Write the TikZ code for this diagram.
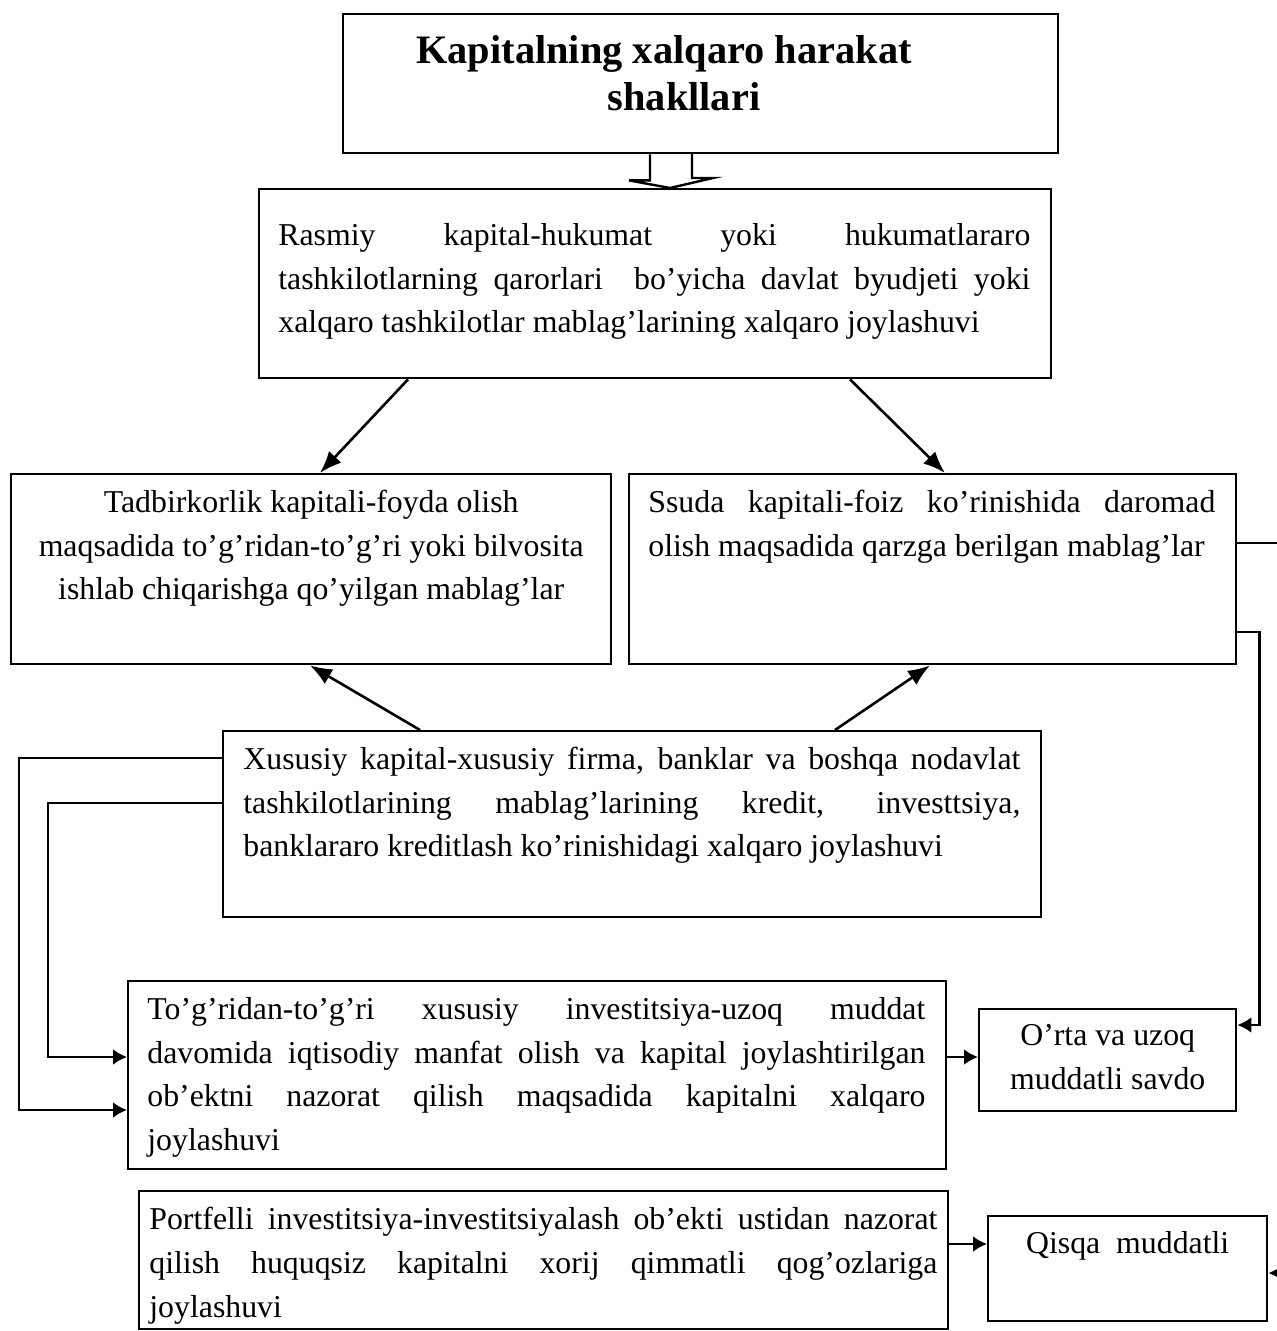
\documentclass[tikz,border=0pt]{standalone}
\usepackage{fontspec}
\setmainfont{Liberation Serif}
\usetikzlibrary{arrows.meta,calc}
\newcommand{\jline}[2]{\hbox to #1{#2}}
\begin{document}
\begin{tikzpicture}[x=0.5pt,y=-0.5pt,
  boxst/.style={draw,line width=1.2pt,inner sep=0pt,anchor=north west},
  txt/.style={inner sep=0pt,anchor=north west,align=left,font=\fontsize{15.9}{21.8}\selectfont},
  ctxt/.style={inner sep=0pt,anchor=north,align=center,font=\fontsize{15.9}{21.8}\selectfont},
  arr/.style={line width=1.3pt,-{Latex[length=7pt,width=8pt]}},
  darr/.style={line width=1.3pt,-{Latex[length=11pt,width=8.5pt]}},
  conn/.style={line width=1.3pt}]
\useasboundingbox (0,0) rectangle (1277,1331);
% boxes
\node[boxst,minimum width=357.5pt,minimum height=69.5pt] (title) at (342,13) {};
\node[boxst,minimum width=396pt,minimum height=94.5pt] (b2) at (258,188) {};
\node[boxst,minimum width=300pt,minimum height=95pt] (tad) at (10,473) {};
\node[boxst,minimum width=303.5pt,minimum height=95pt] (ssu) at (628,473) {};
\node[boxst,minimum width=409pt,minimum height=93pt] (xus) at (222,730) {};
\node[boxst,minimum width=409pt,minimum height=94pt] (tog) at (127,980) {};
\node[boxst,minimum width=128.5pt,minimum height=51pt] (ort) at (978,1008) {};
\node[boxst,minimum width=404.5pt,minimum height=69pt] (por) at (138,1190) {};
\node[boxst,minimum width=139.5pt,minimum height=52.5pt] (qis) at (987,1215) {};
% texts
\node[inner sep=0pt,anchor=north,align=center,font=\fontsize{20.2}{23.5}\selectfont\bfseries] (ttitle) at (684,35) {Kapitalning xalqaro harakat\kern20pt\\shakllari};
\node[txt] (tb2) at ($(b2.north west)+(20,35)$) {\jline{376pt}{Rasmiy kapital-hukumat yoki hukumatlararo}\\\jline{376pt}{tashkilotlarning qarorlari\ \ bo’yicha davlat byudjeti yoki}\\xalqaro tashkilotlar mablag’larining xalqaro joylashuvi};
\node[ctxt] (ttad) at ($(tad.north)+(0,17)$) {Tadbirkorlik kapitali-foyda olish\\maqsadida to’g’ridan-to’g’ri yoki bilvosita\\ishlab chiqarishga qo’yilgan mablag’lar};
\node[txt] (tssu) at ($(ssu.north west)+(20,17)$) {\jline{283.5pt}{Ssuda kapitali-foiz ko’rinishida daromad}\\olish maqsadida qarzga berilgan mablag’lar};
\node[txt] (txus) at ($(xus.north west)+(21,17)$) {\jline{388.5pt}{Xususiy kapital-xususiy firma, banklar va boshqa nodavlat}\\\jline{388.5pt}{tashkilotlarining mablag’larining kredit, investtsiya,}\\banklararo kreditlash ko’rinishidagi xalqaro joylashuvi};
\node[txt] (ttog) at ($(tog.north west)+(20,17)$) {\jline{389pt}{To’g’ridan-to’g’ri xususiy investitsiya-uzoq muddat}\\\jline{389pt}{davomida iqtisodiy manfat olish va kapital joylashtirilgan}\\\jline{389pt}{ob’ektni nazorat qilish maqsadida kapitalni xalqaro}\\joylashuvi};
\node[ctxt] (tort) at ($(ort.north)+(0,16)$) {O’rta va uzoq\\muddatli savdo};
\node[txt] (tpor) at ($(por.north west)+(11,17)$) {\jline{394pt}{Portfelli investitsiya-investitsiyalash ob’ekti ustidan nazorat}\\\jline{394pt}{qilish huquqsiz kapitalni xorij qimmatli qog’ozlariga}\\joylashuvi};
\node[ctxt] (tqis) at ($(qis.north)+(0,16)$) {Qisqa\ \ muddatli};
% hollow arrow
\draw[line width=1.2pt] ($(title.south west)+(308,0)$) -- ++(0,26) -- ++(-21,0) -- ($(b2.north west)+(412,0)$) -- ++(43,-10) -- ++(-21,0) -- ++(0,-25);
% diagonal arrows
\draw[darr] ($(b2.south west)+(150,0)$) -- ($(tad.north west)+(310,0)$);
\draw[darr] ($(b2.south west)+(592,0)$) -- ($(ssu.north west)+(317,0)$);
\draw[darr] ($(xus.north west)+(198,0)$) -- ($(tad.south west)+(300,0)$);
\draw[darr] ($(xus.north west)+(613,0)$) -- ($(ssu.south west)+(302,0)$);
% left connectors
\draw[arr] ($(xus.north west)+(0,28)$) -- ++(-203,0) |- ($(tog.north west)+(0,130)$);
\draw[arr] ($(xus.north west)+(0,73)$) -- ++(-174,0) |- ($(tog.north west)+(0,77)$);
% right side
\draw[arr] ($(tog.north east)+(0,77)$) -- ($(ort.north west)+(0,49)$);
\coordinate (eR1) at (1277,543);
\draw[conn] ($(ssu.north east)+(0,70)$) -- (eR1);
\draw[arr] ($(ssu.north east)+(0,159)$) -- ++(22,0) |- ($(ort.north east)+(0,17)$);
\draw[arr] ($(por.north east)+(0,54)$) -- ($(qis.north west)+(0,29)$);
\coordinate (eR2) at (1277,1273);
\draw[arr] (eR2) -- ($(qis.north east)+(0,58)$);
\end{tikzpicture}
\end{document}
